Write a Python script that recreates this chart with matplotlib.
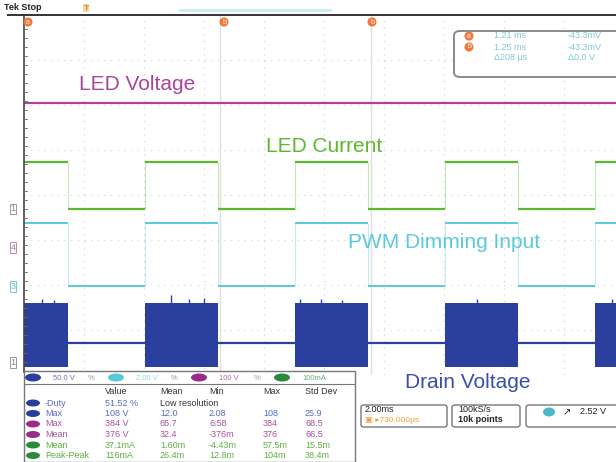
import numpy as np
import matplotlib
matplotlib.use("Agg")
import matplotlib.pyplot as plt
from matplotlib.patches import FancyBboxPatch, Ellipse

plt.rcParams['font.family'] = ['Liberation Sans', 'DejaVu Sans']

W, H = 616, 462

# timing of the PWM (ms, 2 ms/div, 10 div on screen)
rise_ms = [4.03, 9.03, 14.03, 19.03]
fall_ms = [1.47, 6.47, 11.47, 16.47]
cursor_ms = [6.55, 11.55]

# trace levels in divisions (0 = bottom of graticule, 8 = top)
led_v_level = 6.04
led_i_high, led_i_low = 4.73, 3.69
pwm_high, pwm_low = 3.38, 1.98
drain_top, drain_bot, drain_off = 1.60, 0.18, 0.71
ground_marks = [("1", 3.69, "#888888"), ("4", 2.84, "#b07aa8"),
                ("3", 1.96, "#5bc0d8"), ("1", 0.27, "#888888")]

# a few switching spikes on top of the drain burst (ms, div)
spike_ms = [0.6, 1.0, 4.9, 5.5, 6.0, 9.2, 9.9, 10.6, 15.1, 19.6]
spike_top = [1.70, 1.66, 1.78, 1.68, 1.72, 1.68, 1.70, 1.66, 1.68, 1.70]

# measurement table
table_cols = ["Value", "Mean", "Min", "Max", "Std Dev"]
table_rows = [
    ("#2b3d9c", "#5b6bc0", "-Duty", ["51.52 %", "Low resolution", "", "", ""]),
    ("#2b3d9c", "#5b6bc0", "Max", ["108 V", "12.0", "2.08", "108", "25.9"]),
    ("#9b2a8a", "#a8509c", "Max", ["384 V", "65.7", "6.58", "384", "68.5"]),
    ("#9b2a8a", "#a8509c", "Mean", ["376 V", "32.4", "-376m", "376", "66.5"]),
    ("#2a8a3a", "#5cb040", "Mean", ["37.1mA", "1.60m", "-4.43m", "57.5m", "15.5m"]),
    ("#2a8a3a", "#5cb040", "Peak-Peak", ["116mA", "26.4m", "12.8m", "104m", "38.4m"]),
]
ch_scales = [("#2b3d9c", "50.0 V"), ("#5bc8d8", "2.00 V"),
             ("#9b2a8a", "100 V"), ("#2a8a3a", "100mA")]

BLUE = "#2b3f9e"
GREEN = "#5cb82e"
CYAN = "#5bc8dc"
MAGENTA = "#b0409e"


def fx(x):
    return x / W


def fy(y):
    return 1 - y / H


def draw_square(ax, high, low, color, lw):
    """flat segments in full colour, edges faint like a scope trace"""
    starts = [0.0] + rise_ms
    ends = fall_ms + [20.5]
    for s, e in zip(starts, ends):
        ax.plot([s, e], [high, high], color=color, lw=lw, zorder=4, solid_capstyle="butt")
    for s, e in zip(fall_ms, rise_ms):
        ax.plot([s, e], [low, low], color=color, lw=lw, zorder=4, solid_capstyle="butt")
    ax.vlines(fall_ms + rise_ms, low, high, color=color, lw=0.8, alpha=0.35, zorder=3)


fig = plt.figure(figsize=(W / 100, H / 100), dpi=100)
fig.patch.set_facecolor("white")

# graticule axes: x=24..624 px, y=15..375 px
ax = fig.add_axes([fx(24), fy(375), 600 / W, 360 / H])
ax.set_xlim(0, 20)
ax.set_ylim(0, 8)
ax.axis("off")

for gx in np.arange(2, 20, 2):
    ax.axvline(gx, color="#d0d0d0", lw=0.8, ls=(0, (1, 5)), zorder=1)
for gy in np.arange(1, 8, 1):
    ax.axhline(gy, color="#d0d0d0", lw=0.8, ls=(0, (1, 5)), zorder=1)
for c in cursor_ms:
    ax.axvline(c, color="#e0e0e0", lw=1.0, zorder=1)

# LED voltage
ax.plot([0, 20.5], [led_v_level, led_v_level], color=MAGENTA, lw=1.6, zorder=3)
# LED current and PWM input
draw_square(ax, led_i_high, led_i_low, GREEN, 1.6)
draw_square(ax, pwm_high, pwm_low, CYAN, 1.4)
# drain voltage: burst while on, flat while off
on_starts = [0.0] + rise_ms
on_ends = fall_ms + [20.5]
for s, e in zip(on_starts, on_ends):
    ax.fill_between([s, e], drain_bot, drain_top, color=BLUE, lw=0, zorder=3)
for s, e in zip(fall_ms, rise_ms):
    ax.plot([s, e], [drain_off, drain_off], color=BLUE, lw=1.6, zorder=3)
ax.vlines(spike_ms, drain_top, spike_top, color=BLUE, lw=1.0, zorder=3)

# left axis with ticks
fig.add_artist(plt.Line2D([fx(24), fx(24)], [fy(15), fy(372)], color="#444444", lw=1.2))
for yy in np.arange(20, 372, 9):
    fig.add_artist(plt.Line2D([fx(24), fx(27)], [fy(yy), fy(yy)], color="#666666", lw=0.6))
for lab, lev, col in ground_marks:
    ypx = 375 - lev * 45
    fig.text(fx(13), fy(ypx), lab, color=col, fontsize=6.5, ha="center", va="center",
             bbox=dict(boxstyle="square,pad=0.1", fc="white", ec=col, lw=0.6))

# top bar
fig.add_artist(plt.Line2D([fx(8), 1], [fy(15), fy(15)], color="#333333", lw=1.4))
fig.add_artist(plt.Line2D([fx(180), fx(330)], [fy(10), fy(10)], color="#cdebf1", lw=2))
fig.text(fx(4), fy(8), "Tek Stop", fontsize=6.5, fontweight="bold", color="#222222",
         va="center", ha="left")
fig.text(fx(86), fy(8), "T", fontsize=6, color="#c8902a", fontweight="bold",
         ha="center", va="center",
         bbox=dict(boxstyle="square,pad=0.1", fc="#f2d7a0", ec="none"))
for cx in [28, 224, 372]:
    fig.text(fx(cx), fy(22), "a" if cx == 28 else "b", fontsize=5, color="white",
             ha="center", va="center",
             bbox=dict(boxstyle="circle,pad=0.15", fc="#f07a3a", ec="none"))

# cursor readout box
fig.add_artist(FancyBboxPatch((fx(454), fy(77)), fx(170), 46 / H,
                              boxstyle="round,pad=0,rounding_size=0.01",
                              fc="white", ec="#8a8a8a", lw=1.4, transform=fig.transFigure))
readout = [("1.21 ms", "-43.3mV"), ("1.25 ms", "-43.3mV"), ("\u0394208 \u03bcs", "\u03940.0 V")]
for i, (a, b) in enumerate(readout):
    yy = 36 + i * 11
    if i < 2:
        fig.text(fx(469), fy(yy), "ab"[i], fontsize=5, color="white", ha="center", va="center",
                 bbox=dict(boxstyle="circle,pad=0.15", fc="#f07a3a", ec="none"))
    fig.text(fx(494), fy(yy), a, fontsize=6.5, color="#7cc8d8", va="center")
    fig.text(fx(568), fy(yy), b, fontsize=6.5, color="#7cc8d8", va="center")

# trace labels
fig.text(fx(137), fy(85), "LED Voltage", fontsize=15, color="#a8449a", ha="center", va="center")
fig.text(fx(324), fy(146), "LED Current", fontsize=15, color=GREEN, ha="center", va="center")
fig.text(fx(444), fy(243), "PWM Dimming Input", fontsize=15, color=CYAN, ha="center", va="center")
fig.text(fx(468), fy(383), "Drain Voltage", fontsize=15, color="#3a4faa", ha="center", va="center")

# measurement table
fig.add_artist(plt.Rectangle((fx(24), 0), fx(331), fy(371), fc="white", ec="#777777",
                             lw=1.0, transform=fig.transFigure, zorder=5))
fig.add_artist(plt.Line2D([fx(24), fx(355)], [fy(384), fy(384)], color="#777777", lw=0.8, zorder=6))
for i, (col, lab) in enumerate(ch_scales):
    x0 = 33 + i * 83
    fig.add_artist(Ellipse((fx(x0), fy(377.5)), 16 / W, 8 / H, fc=col, ec="none",
                           transform=fig.transFigure, zorder=6))
    fig.text(fx(x0 + 20), fy(378), lab, fontsize=5.5, color=col, va="center", zorder=7, alpha=0.7)
    if i < 3:
        fig.text(fx(x0 + 55), fy(378), "%", fontsize=5.5, color="#999999", va="center", zorder=7)

col_x = [105, 160, 209, 263, 305]
for cx, lab in zip(col_x, table_cols):
    fig.text(fx(cx), fy(392), lab, fontsize=6.5, color="#333333", va="center", zorder=7)
for r, (dot, tcol, name, vals) in enumerate(table_rows):
    yy = 403 + r * 10.5
    fig.add_artist(Ellipse((fx(33), fy(yy)), 14 / W, 7 / H, fc=dot, ec="none",
                           transform=fig.transFigure, zorder=6))
    fig.text(fx(45), fy(yy), name, fontsize=6.5, color=tcol, va="center", zorder=7)
    for cx, val in zip(col_x, vals):
        c = "#333333" if val == "Low resolution" else tcol
        fig.text(fx(cx), fy(yy), val, fontsize=6.5, color=c, va="center", zorder=7)

# horizontal / acquisition / trigger boxes
boxes = [(361, 447), (452, 520), (526, 630)]
for x0, x1 in boxes:
    fig.add_artist(FancyBboxPatch((fx(x0), fy(427)), fx(x1 - x0), 22 / H,
                                  boxstyle="round,pad=0,rounding_size=0.005",
                                  fc="white", ec="#777777", lw=1.0,
                                  transform=fig.transFigure))
fig.text(fx(365), fy(410), "2.00ms", fontsize=6.5, color="#222222", va="center")
fig.text(fx(365), fy(420), "\u25a3 \u25b8730.000\u03bcs", fontsize=6, color="#f0a040", va="center")
fig.text(fx(458), fy(410), "100kS/s", fontsize=6.5, color="#222222", va="center")
fig.text(fx(458), fy(420), "10k points", fontsize=6.5, color="#222222", va="center",
         fontweight="bold")
fig.add_artist(Ellipse((fx(549), fy(412)), 12 / W, 9 / H, fc="#4ab8c8", ec="none",
                       transform=fig.transFigure))
fig.text(fx(563), fy(412), "\u2197", fontsize=7, color="#222222", va="center")
fig.text(fx(580), fy(412), "2.52 V", fontsize=6.5, color="#222222", va="center")

fig.savefig("out.png", dpi=100)
